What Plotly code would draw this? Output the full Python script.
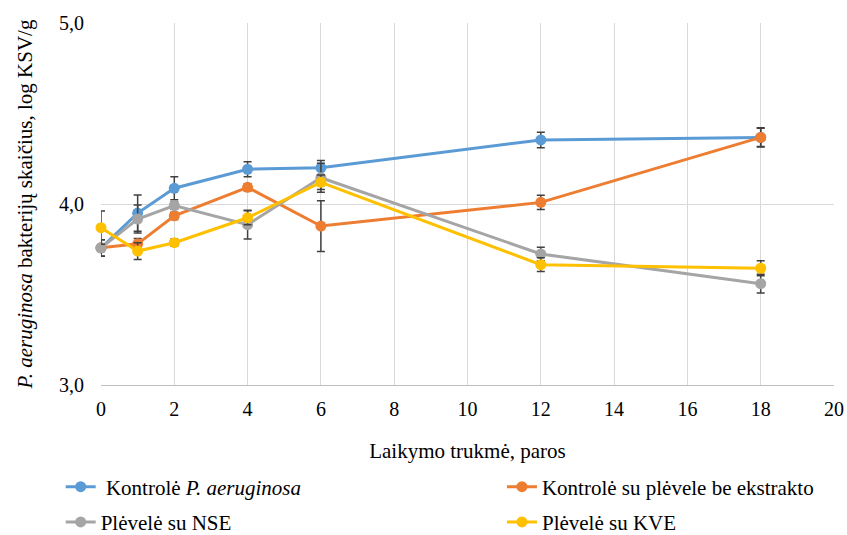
import plotly.graph_objects as go

days = [0, 1, 2, 4, 6, 12, 18]

names = [" Kontrolė <i>P. aeruginosa</i>", "Kontrolė su plėvele be ekstrakto",
         "Plėvelė su NSE", "Plėvelė su KVE"]
colors = ["#5B9BD5", "#ED7D31", "#A5A5A5", "#FFC000"]

kontrole = [3.757, 3.95, 4.087, 4.192, 4.200, 4.354, 4.368]
be_ekstrakto = [3.758, 3.78, 3.935, 4.092, 3.878, 4.009, 4.368]
nse = [3.758, 3.917, 3.991, 3.886, 4.145, 3.724, 3.560]
kve = [3.869, 3.740, 3.786, 3.924, 4.120, 3.665, 3.645]

kontrole_err = [0.045, 0.10, 0.063, 0.042, 0.040, 0.043, 0.050]
be_ekstrakto_err = [0.02, 0.03, 0.02, 0.02, 0.14, 0.040, 0.053]
nse_err = [0.045, 0.077, 0.02, 0.079, 0.080, 0.037, 0.052]
kve_err = [0.092, 0.046, 0.02, 0.039, 0.040, 0.038, 0.042]

series = [kontrole, be_ekstrakto, nse, kve]
errors = [kontrole_err, be_ekstrakto_err, nse_err, kve_err]
legend_ids = ["legend", "legend2", "legend", "legend2"]

FONT = "Liberation Serif, Times New Roman, serif"
FS = 20
FT = 21

fig = go.Figure()
for i in range(4):
    fig.add_trace(go.Scatter(
        x=days, y=series[i], name=names[i], mode="lines+markers",
        line=dict(color=colors[i], width=3),
        marker=dict(color=colors[i], size=11),
        error_y=dict(type="data", array=errors[i], visible=True,
                     color="#404040", thickness=1.5, width=4),
        cliponaxis=False,
        legend=legend_ids[i],
        legendgroup="g%d" % i,
    ))

fig.update_layout(
    width=847, height=535,
    margin=dict(l=101, r=13, t=23, b=150, autoexpand=False),
    paper_bgcolor="white", plot_bgcolor="white",
    separators=",.",
    font=dict(family=FONT, size=FS, color="#000000"),
    xaxis=dict(range=[0, 20], tickmode="linear", tick0=0, dtick=2,
               showgrid=True, gridcolor="#D9D9D9", gridwidth=1,
               zeroline=False, showline=True, linecolor="#BFBFBF", linewidth=1,
               ticks="", ticklen=0, ticklabelstandoff=6,
               tickfont=dict(family=FONT, size=FS),
               title=dict(text="Laikymo trukmė, paros", standoff=24,
                          font=dict(family=FONT, size=FT))),
    yaxis=dict(range=[3, 5], tickmode="linear", tick0=3, dtick=1,
               tickformat=".1f",
               showgrid=True, gridcolor="#D9D9D9", gridwidth=1,
               zeroline=False, showline=False, ticks="",
               ticklabelstandoff=16,
               tickfont=dict(family=FONT, size=FS),
               title=dict(text="<i>P. aeruginosa</i> bakterijų skaičius, log KSV/g",
                          standoff=20, font=dict(family=FONT, size=FT))),
    legend=dict(xref="paper", yref="container", x=-0.055, y=0.128,
                xanchor="left", yanchor="top", orientation="v",
                tracegroupgap=5, font=dict(family=FONT, size=FT),
                bgcolor="rgba(0,0,0,0)"),
    legend2=dict(xref="paper", yref="container", x=0.547, y=0.128,
                 xanchor="left", yanchor="top", orientation="v",
                 tracegroupgap=5, font=dict(family=FONT, size=FT),
                 bgcolor="rgba(0,0,0,0)"),
)

fig.write_html("out.html")
